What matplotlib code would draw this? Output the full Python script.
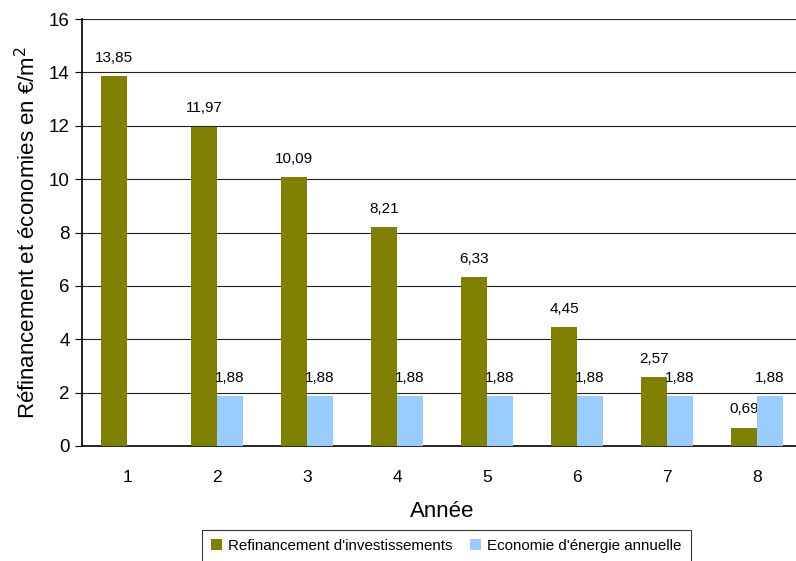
import matplotlib
matplotlib.use("Agg")
import matplotlib.pyplot as plt
from matplotlib.patches import Patch

plt.rcParams['font.family'] = ['Liberation Sans', 'DejaVu Sans']

years = [1, 2, 3, 4, 5, 6, 7, 8]
refinancement = [13.85, 11.97, 10.09, 8.21, 6.33, 4.45, 2.57, 0.69]
economie = [None, 1.88, 1.88, 1.88, 1.88, 1.88, 1.88, 1.88]
yticks = [0, 2, 4, 6, 8, 10, 12, 14, 16]

olive = '#808000'
blue = '#99CCFF'

fig = plt.figure(figsize=(7.96, 5.61), dpi=100)
W, H = 796, 561
ax = fig.add_axes([82 / W, 1 - 446 / H, 720 / W, 427 / H])

bw = 0.29
for x, v in zip(years, refinancement):
    ax.bar(x - bw / 2, v, width=bw, color=olive, zorder=3)
    ax.annotate(f"{v:.2f}".replace('.', ','), (x - bw / 2, v), xytext=(0, 8),
                textcoords='offset points', ha='center', va='bottom', fontsize=11)
for x, v in zip(years, economie):
    if v is None:
        continue
    ax.bar(x + bw / 2, v, width=bw, color=blue, zorder=3)
    ax.annotate(f"{v:.2f}".replace('.', ','), (x + bw / 2, v), xytext=(0, 8),
                textcoords='offset points', ha='center', va='bottom', fontsize=11)

ax.set_xlim(0.5, 8.5)
ax.set_ylim(0, 16)
ax.set_yticks(yticks)
ax.set_xticks(years)
ax.set_xticklabels([str(y) for y in years])
ax.tick_params(axis='x', length=0, labelsize=12.5, pad=17)
ax.tick_params(axis='y', direction='out', length=5, labelsize=13.5, pad=4)
ax.yaxis.grid(True, color='#222222', linewidth=0.8, zorder=0)
for s in ['top', 'right']:
    ax.spines[s].set_visible(False)
ax.spines['left'].set_linewidth(1.2)
ax.spines['bottom'].set_linewidth(1.2)

ax.set_xlabel("Année", fontsize=16, labelpad=12)
ax.set_ylabel("Réfinancement et économies en €/m$^2$", fontsize=16, labelpad=6)

handles = [Patch(facecolor=olive, label="Refinancement d'investissements"),
           Patch(facecolor=blue, label="Economie d'énergie annuelle")]
leg = fig.legend(handles=handles, loc='upper left', bbox_to_anchor=(202 / W, 1 - 530 / H),
                 ncol=2, fontsize=10.9, frameon=True, fancybox=False, edgecolor='#000000',
                 handlelength=0.75, handleheight=0.75, handletextpad=0.4, columnspacing=1.1,
                 borderpad=0.6, borderaxespad=0)
leg.get_frame().set_linewidth(0.8)

fig.savefig("out.png", dpi=100)
